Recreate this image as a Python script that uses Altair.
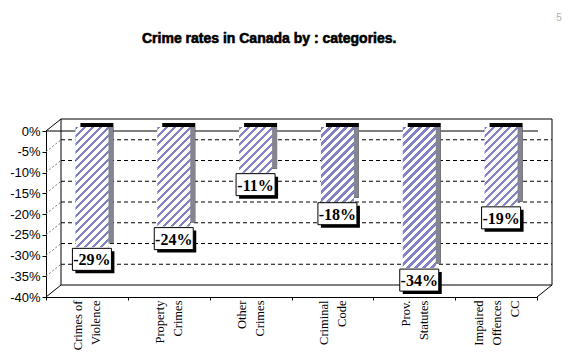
import altair as alt
import pandas as pd

# ---- data ----
categories = ["Crimes of|Violence", "Property|Crimes", "Other|Crimes",
              "Criminal|Code", "Prov.|Statutes", "Impaired|Offences|CC"]
values = [-29, -24, -11, -18, -34, -19]
labels = ["-29%", "-24%", "-11%", "-18%", "-34%", "-19%"]
y_ticks = [0, -5, -10, -15, -20, -25, -30, -35, -40]
grid_vals = [-5, -10, -15, -20, -25, -30, -35]
title_text = "Crime rates in Canada by : categories."

# ---- layout / style ----
W, H = 491, 166
DX, DY = 15, -12          # depth of the 3D back wall
BX, BY = 5, -4            # depth of a bar
BAR_W = 33
LAV = "#8282c6"
SIDE = "#85858f"
LINE_H = 18

df = pd.DataFrame({"cat": categories, "value": values, "label": labels})
grid_df = pd.DataFrame({"g": grid_vals})
edge_df = pd.DataFrame({"g": [y_ticks[0], y_ticks[-1]]})
frame_df = pd.DataFrame({"top": [y_ticks[0]], "bot": [y_ticks[-1]]})

y_scale = alt.Scale(domain=[y_ticks[-1], y_ticks[0]], nice=False, zero=False)
x_scale = alt.Scale(paddingInner=0, paddingOuter=0)

x_axis = alt.Axis(title=None, labelExpr="split(datum.label, '|')", labelAngle=270,
                  labelAlign="right", labelBaseline="middle", labelFont="Liberation Serif",
                  labelFontSize=12.5, labelColor="black", labelLineHeight=LINE_H, labelPadding=0,
                  labelOffset={"condition": {"test": "length(split(datum.label, '|')) > 2",
                                             "value": -LINE_H},
                               "value": -LINE_H / 2},
                  tickBand="extent", tickSize=3, tickColor="black", domainColor="black",
                  labelOverlap=False)
y_axis = alt.Axis(title=None, values=y_ticks, labelExpr="datum.value + '%'",
                  labelFont="Liberation Sans", labelFontSize=13, labelColor="black",
                  tickSize=4, tickColor="black", domainColor="black", labelPadding=2,
                  grid=False, labelOverlap=False)

X = alt.X("cat:N", sort=categories, scale=x_scale, axis=x_axis)
Y = alt.Y("value:Q", scale=y_scale, axis=y_axis)

# ---- 3D frame ----
frame = alt.Chart(frame_df).mark_rect(fill="transparent", stroke="black", strokeWidth=1,
                                      yOffset=DY, y2Offset=DY).encode(
    x=alt.value(DX), x2=alt.value(W + DX),
    y=alt.Y("top:Q", scale=y_scale, axis=y_axis), y2="bot:Q")

grid = alt.Chart(grid_df).mark_rule(color="black", strokeWidth=1, strokeDash=[4, 3],
                                    yOffset=DY).encode(
    x=alt.value(DX), x2=alt.value(W + DX),
    y=alt.Y("g:Q", scale=y_scale, axis=y_axis))

wall_grid = alt.Chart(grid_df).mark_rule(color="#777777", strokeWidth=1, strokeDash=[2, 2],
                                         y2Offset=DY).encode(
    x=alt.value(0), x2=alt.value(DX),
    y=alt.Y("g:Q", scale=y_scale, axis=y_axis), y2="g:Q")

wall_edges = alt.Chart(edge_df).mark_rule(color="black", strokeWidth=1, y2Offset=DY).encode(
    x=alt.value(0), x2=alt.value(DX),
    y=alt.Y("g:Q", scale=y_scale, axis=y_axis), y2="g:Q")

floor_right = alt.Chart(frame_df).mark_rule(color="black", strokeWidth=1, y2Offset=DY).encode(
    x=alt.value(W), x2=alt.value(W + DX),
    y=alt.Y("bot:Q", scale=y_scale, axis=y_axis), y2="bot:Q")

zero_line = alt.Chart(frame_df).mark_rule(color="black", strokeWidth=1).encode(
    x=alt.value(0), x2=alt.value(W + 1),
    y=alt.Y("top:Q", scale=y_scale, axis=y_axis))

# ---- bars ----
bar_top = alt.Chart(df).mark_bar(width=BAR_W, xOffset=2 * BX, yOffset=2 * BY,
                                 y2Offset=2 * BY, color="black").encode(
    x=X, y=Y, y2=alt.datum(0))
bar_side = alt.Chart(df).mark_bar(width=BAR_W, xOffset=2 * BX, yOffset=2 * BY,
                                  y2Offset=BY, color=SIDE).encode(
    x=X, y=Y, y2=alt.datum(0))

front_layers = []
P = 8.0   # stripe period in px (along x+y)
for cat, v in zip(categories, values):
    h = abs(v) * H / (y_ticks[0] - y_ticks[-1])
    w = BAR_W
    k = (w + h) / (w * w + h * h)
    n = (w + h) / P
    stops = []
    i = 0
    while i / n < 1:
        a = i / n
        b = min((i + 0.42) / n, 1.0)
        c = min((i + 1) / n, 1.0)
        stops += [alt.GradientStop(offset=a, color=LAV), alt.GradientStop(offset=b, color=LAV),
                  alt.GradientStop(offset=b, color="white"), alt.GradientStop(offset=c, color="white")]
        i += 1
    grad = alt.LinearGradient(gradient="linear", stops=stops, x1=0, y1=0, x2=k * w, y2=k * h)
    front_layers.append(
        alt.Chart(df).transform_filter(alt.FieldEqualPredicate(field="cat", equal=cat))
        .mark_bar(width=BAR_W, xOffset=BX, yOffset=BY, y2Offset=BY, fill=grad, strokeWidth=0)
        .encode(x=X, y=Y, y2=alt.datum(0)))

# ---- value labels ----
BOX = "M-1,-0.5641L1,-0.5641L1,0.5641L-1,0.5641Z"
BOX_SIZE = 39 * 39
shadow = alt.Chart(df).mark_point(shape=BOX, size=BOX_SIZE, filled=True, fill="black",
                                  opacity=1, xOffset=BX + 3, yOffset=BY + 12 + 3).encode(x=X, y=Y)
box = alt.Chart(df).mark_point(shape=BOX, size=BOX_SIZE, filled=True, fill="white",
                               stroke="black", strokeWidth=1, opacity=1,
                               xOffset=BX, yOffset=BY + 12).encode(x=X, y=Y)
text = alt.Chart(df).mark_text(font="Liberation Serif", fontSize=16, fontWeight="bold",
                               color="black", align="center", baseline="middle",
                               dx=BX, dy=BY + 13).encode(x=X, y=Y, text="label:N")

# ---- title and page mark ----
title = alt.Chart(frame_df).mark_text(text=title_text, font="Liberation Sans",
                                      fontSize=14, fontWeight="bold", color="black",
                                      stroke="black", strokeWidth=0.6,
                                      align="left", baseline="alphabetic").encode(
    x=alt.value(96), y=alt.value(-88))
corner = alt.Chart(frame_df).mark_text(text="5", font="Liberation Sans", fontSize=10,
                                       color="#b0b0b0", align="center").encode(
    x=alt.value(W + 22), y=alt.value(-113))

chart = alt.layer(
    frame, grid, wall_grid, wall_edges, floor_right, zero_line,
    bar_top, bar_side, *front_layers, shadow, box, text, title, corner
).properties(
    width=W, height=H,
    autosize=alt.AutoSizeParams(type="none"),
    padding={"left": 38, "top": 123, "right": 25, "bottom": 54},
).configure_view(strokeWidth=0).configure_axis(domainWidth=1, tickWidth=1)

chart.save("out.html", embed_options={"renderer": "svg", "actions": False})
